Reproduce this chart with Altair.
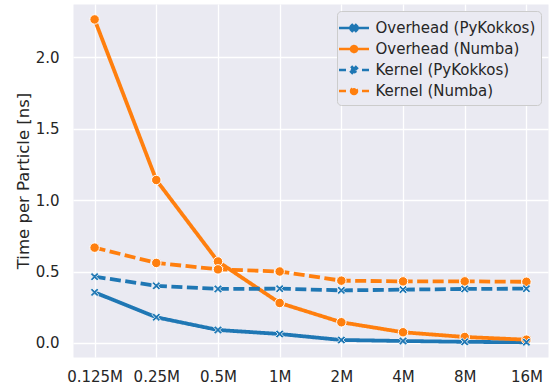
import altair as alt
import pandas as pd

sizes = ["0.125M", "0.25M", "0.5M", "1M", "2M", "4M", "8M", "16M"]
series_names = ["Overhead (PyKokkos)", "Overhead (Numba)", "Kernel (PyKokkos)", "Kernel (Numba)"]
overhead_pykokkos = [0.354, 0.180, 0.091, 0.063, 0.021, 0.014, 0.008, 0.005]
overhead_numba = [2.263, 1.140, 0.570, 0.280, 0.145, 0.075, 0.042, 0.023]
kernel_pykokkos = [0.464, 0.400, 0.378, 0.380, 0.368, 0.373, 0.378, 0.380]
kernel_numba = [0.667, 0.560, 0.515, 0.500, 0.436, 0.431, 0.431, 0.428]
y_ticks = [0.0, 0.5, 1.0, 1.5, 2.0]

BLUE = "#1f77b4"
ORANGE = "#ff7f0e"
TEXT = "#262626"
FONT = "DejaVu Sans"

rows = []
for name, vals in zip(series_names, [overhead_pykokkos, overhead_numba, kernel_pykokkos, kernel_numba]):
    for s, v in zip(sizes, vals):
        rows.append({"size": s, "series": name, "value": v})
df = pd.DataFrame(rows)

colors = [BLUE, ORANGE, BLUE, ORANGE]
dashes = [[1, 0], [1, 0], [11, 4.5], [11, 4.5]]

X_PATH = "M-1,-0.6 L-0.6,-1 L0,-0.4 L0.6,-1 L1,-0.6 L0.4,0 L1,0.6 L0.6,1 L0,0.4 L-0.6,1 L-1,0.6 L-0.4,0 Z"
SOLID = "M-1.5,0 L1.5,0 "
DASHED = "M-1.5,0 L-0.8,0 M0.8,0 L1.5,0 "
CIRC = "M-0.3,0 A0.3,0.3 0 1,0 0.3,0 A0.3,0.3 0 1,0 -0.3,0 Z"
XS = ("M-0.3,-0.18 L-0.18,-0.3 L0,-0.12 L0.18,-0.3 L0.3,-0.18 L0.12,0 "
      "L0.3,0.18 L0.18,0.3 L0,0.12 L-0.18,0.3 L-0.3,0.18 L-0.12,0 Z")
leg_shapes = [SOLID + XS, SOLID + CIRC, DASHED + XS, DASHED + CIRC]

x = alt.X("size:N", sort=sizes, title=None,
          scale=alt.Scale(type="point", padding=0.35),
          axis=alt.Axis(labelAngle=0, labelPadding=12, grid=True))
y = alt.Y("value:Q", title="Time per Particle [ns]",
          scale=alt.Scale(domain=[-0.098, 2.371], nice=False, zero=False),
          axis=alt.Axis(values=y_ticks, format=".1f", labelPadding=14, titlePadding=4))
color = alt.Color("series:N", title=None, scale=alt.Scale(domain=series_names, range=colors))
dash = alt.StrokeDash("series:N", title=None, scale=alt.Scale(domain=series_names, range=dashes))

base = alt.Chart(df)

lines = base.mark_line(strokeWidth=3.8).encode(x=x, y=y, color=color, strokeDash=dash)

circles = base.transform_filter(
    alt.FieldOneOfPredicate(field="series", oneOf=[series_names[1], series_names[3]])
).mark_point(filled=True, shape="circle", size=90, stroke="white", strokeWidth=1, opacity=1).encode(
    x=x, y=y, color=color)

crosses = base.transform_filter(
    alt.FieldOneOfPredicate(field="series", oneOf=[series_names[0], series_names[2]])
).mark_point(filled=True, shape=X_PATH, size=70, stroke="white", strokeWidth=0.8, opacity=1).encode(
    x=x, y=y, color=color)

legend_layer = base.transform_filter("false").mark_point(
    filled=True, size=400, strokeWidth=2.5, opacity=1
).encode(
    x=x, y=y, color=color, strokeDash=dash,
    stroke=alt.Stroke("series:N", title=None, scale=alt.Scale(domain=series_names, range=colors)),
    shape=alt.Shape("series:N", title=None, scale=alt.Scale(domain=series_names, range=leg_shapes)),
)

chart = alt.layer(lines, circles, crosses, legend_layer).properties(
    width=475, height=353,
    autosize=alt.AutoSizeParams(type="none"),
    padding={"left": 73, "top": 4, "right": 1, "bottom": 34},
    background="white",
).configure_view(
    fill="#eaeaf2", stroke="transparent"
).configure_axis(
    domain=False, ticks=False, grid=True, gridColor="white", gridWidth=1.3,
    labelFont=FONT, labelFontSize=15, labelColor=TEXT,
    titleFont=FONT, titleFontSize=16.5, titleFontWeight="normal", titleColor=TEXT,
).configure_legend(
    orient="top-right", offset=7, padding=5.5,
    fillColor="#eaeaf2", strokeColor="#cccccc", cornerRadius=4,
    labelFont=FONT, labelFontSize=15, labelColor=TEXT,
    rowPadding=1, labelOffset=10, symbolSize=400, symbolStrokeWidth=2.5,
)

chart.save("out.html", embed_options={"renderer": "svg", "actions": False})
